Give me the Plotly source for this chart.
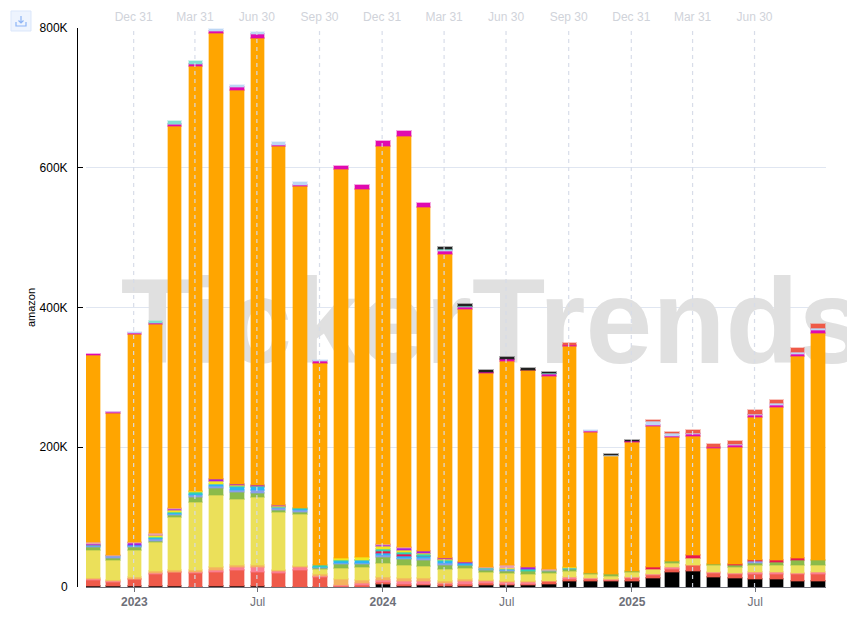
import pandas as pd
import plotly.graph_objects as go

W, H = 847, 629
L, R, T, B = 77, 21, 28, 42

months = [d.strftime("%Y-%m-%d") for d in pd.date_range("2022-11-01", periods=36, freq="MS")]

# segment sizes in thousands, bottom of the stack first
black = [2, 1, 1, 1, 1, .5, 2, 2, 2, .5, .5, .5, .5, .5, 4, 1.5, 3, 2, 2, 3, 3, 3, 5, 8, 9, 8, 9, 12.5, 22, 23, 14, 12.5, 11, 11, 8, 8.5]
red = [8, 6, 10, 18, 20, 19.5, 20, 22, 20, 19.5, 24.5, 14.5, 1.5, 2, 3, 3, 2, 2, 3, 3, 2, 2, 3, 4, 2.5, 2.5, 3.5, 4.5, 4, 8, 6, 5.5, 8, 8, 10, 10.5]
pink = [2, 1, 1, 1, 1, 1, 2, 4, 6, 3, 3, 1, 1, 3.5, 3, 3.5, 3, 2, 4, 2, 2, 2, 1, 2, 1, 1, 1.5, 1, 2, 1, 2, 2, 2, 3, 2.5, 3]
amber = [.5, 1.5, 2, 3, 3, 4, 5, 4, 4, 2, 2, 2, 9, 4, 5, 5, 5, 3, 2, 2, 2, 1, 0, 0, 0, .5, 0, 0, 0, 0, 0, 0, 0, 0, 0, 0]
yellow = [40, 28.5, 39, 41, 75, 97, 103, 94, 97, 82, 74, 8, 15, 18, 19, 19, 17, 17, 16, 11, 11, 11, 11, 9, 5.5, 4, 7, 8, 7, 10, 9, 8, 10, 10, 10.5, 10]
green = [4.5, 4, 4, 2, 3, 7, 9, 10, 6, 3, 4, 1, 6, 5, 9, 8, 8, 6, 4, 3, 3, 4, 3, 3, 2, 3, 2, 0, 2, 0, 2, 3, 3, 4, 7, 7]
blue = [2, 2, 2, 3, 2, 2, 4, 3, 4, 3, 2, 1, 1, 1, 3, 2, 3, 3, 1, 2, 2, 0, 1, 0, 0, 0, 0, 0, 0, 0, 0, 0, 3, 0, 0, 0]
sky = [.5, 1, 1, 1, 1, 2, 2, 4, 4, 1, 1, 1, 3, 4, 3, 3, 3, 2, 2, 0, 1, 0, 0, 1, 0, 0, 0, 0, 0, 0, 0, 0, 0, 0, 0, 0]
crimson = [0, 0, 0, 0, 0, 0, 0, 0, 0, 0, 0, 0, 0, 0, 3, 2, 1, 0, 0, 0, 0, 0, 0, 0, 0, 0, 0, 3, 0, 4, 0, 2, 1, 3, 3, 0]
teal = [.5, 0, 0, 1, 1, 3, 0, 2, 1, 1, 2, 2, 1, 1, 3, 3, 2, 2, 0, 1, 0, 3, 0, 0, 0, 0, 0, 0, 0, 0, 0, 0, 0, 0, 0, 0]
lime = [.5, 0, 0, 3, 3, 2, 4, 1, 1, 1, 0, 0, 3, 4, 3, 3, 2, 1, 0, 0, 1, 0, 1, 1, 0, 0, 0, 0, 0, 0, 0, 0, 0, 0, 0, 0]
violet = [1.5, 0, 3, 1, 1, 0, 4, 2, 1, 1, 0, 0, 0, 0, 2, 3, 2, 2, 2, 0, 0, 2, 0, 0, 0, 0, 0, 0, 0, 0, 0, 0, 0, 0, 0, 0]
rose = [2, 1, 2, 2, 2, 0, 0, 0, 0, 1, 0, 0, 0, 0, 2, 1, 0, 0, 0, 1, 4, 0, 1, 0, 0, 0, 0, 0, 0, 0, 0, 0, 0, 0, 0, 0]
orange = [268, 203, 297, 300, 547, 607, 638, 563, 640, 513, 461, 290, 557, 527, 569, 589, 493, 435, 362, 278, 293, 282, 276, 317, 202, 168.5, 185, 202, 178, 170.5, 166, 167, 205, 219, 290, 325]
magenta = [2, 1, 2, 1.5, 2, 3, 2, 5, 5, 2, 2, 2, 5, 6, 7, 7, 5, 4.5, 3, 2, 2, 1, 3, 2, 1, 0, 1, 1, 1, 2, 2, 3, 3, 2, 3, 4]
pale = [0, 1, 1, 0, 1, 0, 3, 3, 3, 4, 4, 2, 0, 0, 0, 0, 0, 1.5, 0, 0, 0, 0, 0, 0, 1, 1, 0, 5, 4, 2, 0, 2, 2, 4, 3, 3]
aqua = [0, 0, 0, 2.5, 4, 5, 0, 0, 0, 0, 0, 0, 0, 0, 0, 0, 0, 1, 1, 0, 0, 0, 1, 0, 0, 0, 0, 0, 0, 0, 0, 0, 0, 0, 0, 0]
dark = [0, 0, 0, 0, 0, 0, 0, 0, 0, 0, 0, 0, 0, 0, 0, 0, 0, 3, 3, 2, 3, 2, 2, 0, 0, 1.5, 2, 0, 0, 0, 0, 0, 0, 0, 0, 0]
coral = [0, 0, 0, 0, 0, 0, 0, 0, 0, 0, 0, 0, 0, 0, 0, 0, 0, 0, 0, 0, 0, 0, 0, 2, 0, 0, 0, 2, 2, 3.5, 4, 4, 5, 4, 4.5, 5]

series = [
    (black, "0,0,0"), (red, "239,90,74"), (pink, "251,126,145"), (amber, "244,179,94"),
    (yellow, "235,224,90"), (green, "139,187,74"), (blue, "138,158,232"), (sky, "41,182,246"),
    (crimson, "232,23,79"), (teal, "47,208,184"), (lime, "240,232,32"), (violet, "165,30,224"),
    (rose, "232,160,176"), (orange, "255,165,0"), (magenta, "224,10,176"), (pale, "188,214,245"),
    (aqua, "127,223,208"), (dark, "34,34,34"), (coral, "239,90,71"),
]

quarter_dates = ["2022-12-31", "2023-03-31", "2023-06-30", "2023-09-30", "2023-12-31", "2024-03-31",
                 "2024-06-30", "2024-09-30", "2024-12-31", "2025-03-31", "2025-06-30"]
quarter_labels = ["Dec 31", "Mar 31", "Jun 30", "Sep 30", "Dec 31", "Mar 31", "Jun 30", "Sep 30", "Dec 31", "Mar 31", "Jun 30"]
bottom_dates = ["2023-01-01", "2023-07-01", "2024-01-01", "2024-07-01", "2025-01-01", "2025-07-01"]
bottom_labels = ["<b>2023</b>", "Jul", "<b>2024</b>", "Jul", "<b>2025</b>", "Jul"]
y_ticks = [0, 200, 400, 600, 800]
y_labels = ["0", "200K", "400K", "600K", "800K"]
x_range = ["2022-10-22", "2025-10-13"]
BAR_MS = 20 * 24 * 3600 * 1000

fig = go.Figure()

# watermark lives on the lower axes pair so the bars cover it
fig.add_trace(go.Scatter(x=["2024-06-11"], y=[364], mode="text", text=["TickerTrends"], cliponaxis=False,
                         textfont=dict(family="Liberation Sans", size=120, color="#e0e0e0", weight="bold"),
                         hoverinfo="skip", showlegend=False))

for vals, rgb in series:
    fig.add_trace(go.Bar(x=months, y=[v or None for v in vals], xaxis="x2", yaxis="y2", width=BAR_MS,
                         marker=dict(color=f"rgb({rgb})", line=dict(color=f"rgba({rgb},0.35)", width=2)),
                         showlegend=False))

for d in quarter_dates:
    fig.add_shape(type="line", x0=d, x1=d, y0=0, y1=1, xref="x", yref="paper", layer="above",
                  line=dict(color="rgba(214,219,232,0.95)", width=1.2, dash="4px,4px"))


def px(x):
    return (x - L) / (W - L - R)


def py(y):
    return (H - B - y) / (H - T - B)


# download button
fig.add_shape(type="rect", xref="paper", yref="paper", x0=px(11), x1=px(31), y0=py(31), y1=py(11),
              line=dict(color="#dbe7fb", width=1), fillcolor="#eef4fe", layer="above")
fig.add_shape(type="path", xref="paper", yref="paper", layer="above", line=dict(color="#8db4f5", width=1.2),
              path=f"M{px(16)},{py(22)} L{px(16)},{py(26)} L{px(26)},{py(26)} L{px(26)},{py(22)} "
                   f"M{px(21)},{py(16)} L{px(21)},{py(23)} M{px(18.5)},{py(20.5)} L{px(21)},{py(23)} L{px(23.5)},{py(20.5)}")

fig.update_layout(
    width=W, height=H, margin=dict(l=L, r=R, t=T, b=B, autoexpand=False), barmode="stack",
    paper_bgcolor="white", plot_bgcolor="white", showlegend=False,
    font=dict(family="Liberation Sans", size=12, color="#000"),
    xaxis=dict(type="date", domain=[9 / (W - L - R), 1], range=x_range, tickmode="array", tickvals=bottom_dates,
               ticktext=bottom_labels, tickfont=dict(color="#6e7079", size=12), showgrid=False, zeroline=False,
               showline=True, linecolor="#6e7079", linewidth=1, ticks="outside", ticklen=4, tickcolor="#6e7079"),
    xaxis2=dict(type="date", overlaying="x", side="top", anchor="y2", range=x_range, tickmode="array",
                tickvals=quarter_dates, ticktext=quarter_labels, tickfont=dict(color="#d0d3da", size=12),
                showgrid=False, zeroline=False, showline=False, ticks="outside", ticklen=1, tickcolor="rgba(0,0,0,0)"),
    # grid only on the main y axis, so it starts where the bars start
    yaxis=dict(anchor="x", range=[0, 800], tickmode="array", tickvals=y_ticks, showticklabels=False,
               showgrid=True, gridcolor="#e0e6f1", gridwidth=1, zeroline=False, showline=False, ticks=""),
    yaxis2=dict(overlaying="y", anchor="free", position=0, range=[0, 800], tickmode="array", tickvals=y_ticks,
                ticktext=y_labels, tickfont=dict(color="#000", size=12), showgrid=False, zeroline=False,
                showline=True, linecolor="#000", linewidth=1, ticks="inside", ticklen=5, tickcolor="#000",
                ticklabelstandoff=7, title=dict(text="amazon", font=dict(size=11, color="#000"), standoff=0)),
    hovermode="closest",
)

fig.write_html("out.html", post_script="document.body.style.margin='0';", config=dict(displayModeBar=False))
